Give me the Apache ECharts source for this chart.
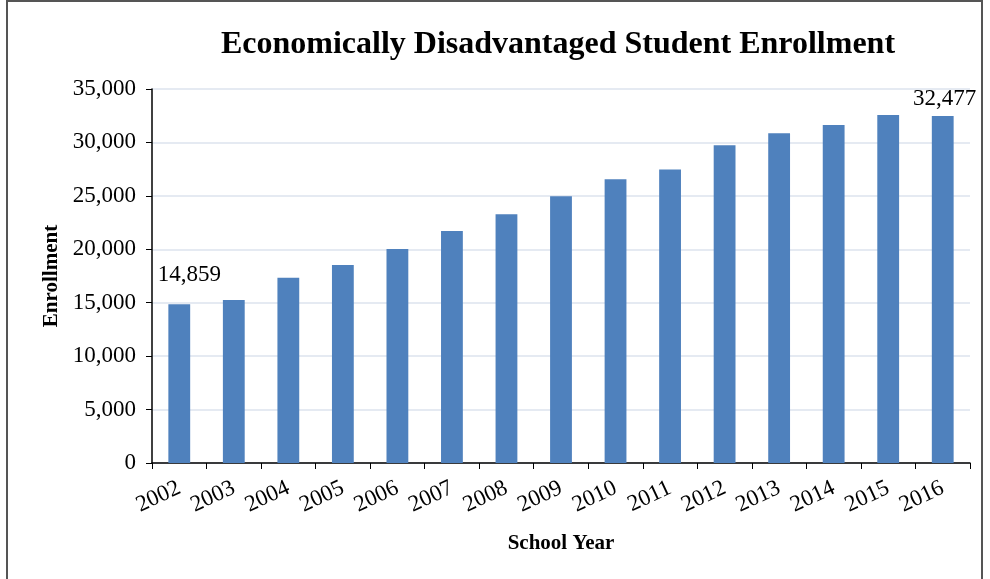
<!DOCTYPE html>
<html><head><meta charset="utf-8">
<script src="https://cdn.jsdelivr.net/npm/echarts@6/dist/echarts.min.js"></script>
<style>html,body{margin:0;padding:0;background:#fff}#c{width:990px;height:579px}</style>
</head><body><div id="c"></div>
<script>
const categories = ['2002','2003','2004','2005','2006','2007','2008','2009','2010','2011','2012','2013','2014','2015','2016'];
const enrollment = [14859,15260,17330,18520,20020,21700,23270,24960,26560,27460,29740,30870,31640,32560,32477];
const yTicks = {min:0, max:35000, interval:5000};
const labelled = [0, 14];

const serif = '"Liberation Serif","Times New Roman",serif';
const chart = echarts.init(document.getElementById('c'));
const labelCfg = [
  {distance:18, offset:[10,0]},
  {distance:6, offset:[2,0]}
];
chart.setOption({
  animation:false,
  backgroundColor:'#fff',
  title:{text:'Economically Disadvantaged Student Enrollment', left:553, top:24, textAlign:'center',
    textStyle:{fontFamily:serif, fontWeight:'bold', fontSize:32, color:'#000'}},
  grid:{left:152, right:20, top:89, bottom:116},
  xAxis:{type:'category', data:categories,
    name:'School Year', nameLocation:'middle', nameGap:70,
    nameTextStyle:{fontFamily:serif, fontWeight:'bold', fontSize:21, color:'#000'},
    axisLine:{lineStyle:{color:'#000', width:1.5}},
    axisTick:{show:true, alignWithLabel:false, length:6, lineStyle:{color:'#000'}},
    axisLabel:{rotate:25, margin:24, fontFamily:serif, fontSize:23, color:'#000', interval:0}},
  yAxis:{type:'value', min:yTicks.min, max:yTicks.max, interval:yTicks.interval,
    name:'Enrollment', nameLocation:'middle', nameGap:88,
    nameTextStyle:{fontFamily:serif, fontWeight:'bold', fontSize:21, color:'#000'},
    axisLine:{show:true, lineStyle:{color:'#000', width:1.5}},
    axisTick:{show:true, length:6, lineStyle:{color:'#000'}},
    splitLine:{lineStyle:{color:'#dce3ee', width:1.5}},
    axisLabel:{margin:16, fontFamily:serif, fontSize:23, color:'#000',
      formatter:v=>v.toLocaleString('en-US')}},
  series:[{type:'bar', data:enrollment.map((v,i)=>{
      const k = labelled.indexOf(i);
      return {value:v,
        label:{show:k>=0, position:'top', distance:k>=0?labelCfg[k].distance:5, offset:k>=0?labelCfg[k].offset:[0,0],
          fontFamily:serif, fontSize:23, color:'#000',
          formatter:p=>p.value.toLocaleString('en-US')}};}),
    barWidth:'40%', itemStyle:{color:'#4f81bd'}}],
  graphic:[{type:'rect', shape:{x:7, y:1, width:975, height:620},
    style:{fill:'none', stroke:'#555', lineWidth:2}, silent:true}]
});
</script></body></html>
